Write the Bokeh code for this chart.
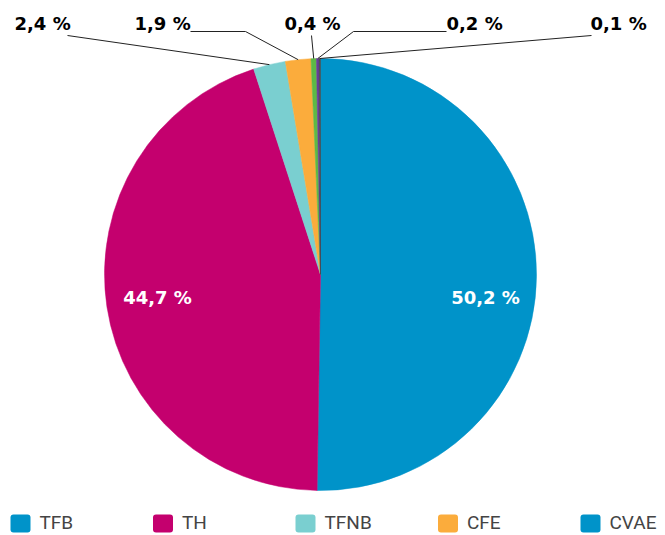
import math
from bokeh.plotting import figure
from bokeh.models import Range1d, ColumnDataSource
from bokeh.core.properties import value
from bokeh.embed import file_html
from bokeh.resources import INLINE

# ---- data ----
slice_names = ["TFB", "TH", "TFNB", "CFE", "S5", "S6", "S7"]
slice_values = [50.2, 44.7, 2.4, 1.9, 0.4, 0.2, 0.1]
slice_colors = ["#0093C9", "#C4006E", "#7ACFD0", "#FBAC3C", "#5DB946", "#6A3D9A", "#3F4649"]
legend_labels = ["TFB", "TH", "TFNB", "CFE", "CVAE"]
legend_colors = ["#0093C9", "#C4006E", "#7ACFD0", "#FBAC3C", "#0093C9"]

# ---- layout (page pixel coordinates) ----
W, H = 657, 535
def X(px): return px
def Y(py): return H - py
CX, CY, R = 320, 274, 216

p = figure(width=W, height=H, output_backend="svg", toolbar_location=None,
           x_range=Range1d(0, W), y_range=Range1d(0, H), min_border=0)
p.axis.visible = False
p.grid.visible = False
p.outline_line_color = None
p.background_fill_color = "white"
p.border_fill_color = "white"

total = sum(slice_values)
starts, ends, mids = [], [], []
acc = 0.0
for v in slice_values:
    f0 = acc / total
    acc += v
    f1 = acc / total
    starts.append(math.pi / 2 - f0 * 2 * math.pi)
    ends.append(math.pi / 2 - f1 * 2 * math.pi)
    mids.append(math.pi / 2 - (f0 + f1) / 2 * 2 * math.pi)

src = ColumnDataSource(dict(x=[X(CX)] * len(slice_values), y=[Y(CY)] * len(slice_values),
                            s=starts, e=ends, c=slice_colors))
p.wedge(x="x", y="y", radius=R, start_angle="s", end_angle="e", direction="clock",
        fill_color="c", line_color="c", line_width=0.5, source=src)

def fmt(v):
    return ("%.1f" % v).replace(".", ",") + " %"

# inside labels
inside = {0: (485, 297), 1: (157, 297)}
for i, (lx, ly) in inside.items():
    p.text(x=[X(lx)], y=[Y(ly)], text=[fmt(slice_values[i])], text_color="white",
           text_font=value("DejaVu Sans"), text_font_style="bold", text_font_size="18px",
           text_align="center", text_baseline="middle")

# outside labels: (text x, text y, align, connector path points before the pie edge)
outside = {
    2: (14, 23, "left", [(67, 35)]),
    3: (134, 23, "left", [(190, 31), (245, 31)]),
    4: (312, 23, "center", [(311, 35)]),
    5: (446, 23, "left", [(446, 31), (353, 31)]),
    6: (590, 23, "left", [(591, 35)]),
}
for i, (tx, ty, al, pts) in outside.items():
    ex = CX + R * math.cos(mids[i])
    ey = CY - R * math.sin(mids[i])
    xs = [X(a) for a, b in pts] + [X(ex)]
    ys = [Y(b) for a, b in pts] + [Y(ey)]
    p.line(xs, ys, line_color="#222222", line_width=1)
    p.text(x=[X(tx)], y=[Y(ty)], text=[fmt(slice_values[i])], text_color="black",
           text_font=value("DejaVu Sans"), text_font_style="bold", text_font_size="18px",
           text_align=al, text_baseline="middle")

# legend
for k, (lab, col) in enumerate(zip(legend_labels, legend_colors)):
    lx = 10 + k * 142.5
    p.rect(x=[X(lx + 10)], y=[Y(523)], width=20, height=18, fill_color=col, line_color=None,
           border_radius=3)
    p.text(x=[X(lx + 29)], y=[Y(522)], text=[lab], text_color="#444444",
           text_font=value("Roboto"), text_font_size="19px",
           text_align="left", text_baseline="middle")

open("out.html", "w").write(file_html(p, INLINE))
